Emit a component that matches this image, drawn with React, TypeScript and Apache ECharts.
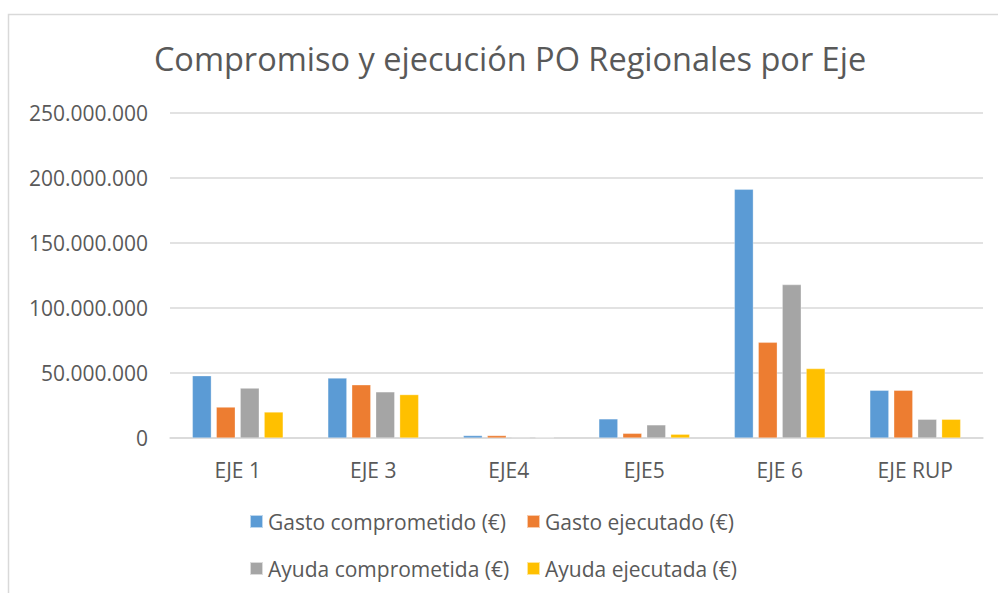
import React, { useEffect, useRef } from "react";
import * as echarts from "echarts";

const categories = ["EJE 1", "EJE 3", "EJE4", "EJE5", "EJE 6", "EJE RUP"];
const gastoComprometido = [47900000, 46100000, 1900000, 14700000, 191300000, 36700000];
const gastoEjecutado = [23800000, 40900000, 1900000, 3600000, 73600000, 36700000];
const ayudaComprometida = [38400000, 35500000, 500000, 10100000, 118000000, 14400000];
const ayudaEjecutada = [20000000, 33400000, 400000, 2900000, 53400000, 14400000];
const seriesNames = [
  "Gasto comprometido (€)",
  "Gasto ejecutado (€)",
  "Ayuda comprometida (€)",
  "Ayuda ejecutada (€)",
];
const colors = ["#5B9BD5", "#ED7D31", "#A5A5A5", "#FFC000"];

const FONT = "Open Sans";
const TEXT = "#595959";

function fmt(v: number): string {
  return String(Math.round(v)).replace(/\B(?=(\d{3})+(?!\d))/g, ".");
}

export default function App() {
  const ref = useRef<HTMLDivElement>(null);
  useEffect(() => {
    if (!ref.current) return;
    const chart = echarts.init(ref.current, null, { renderer: "svg" });
    const values = [gastoComprometido, gastoEjecutado, ayudaComprometida, ayudaEjecutada];
    const legendPos = [
      { left: 244, top: 506 },
      { left: 521, top: 506 },
      { left: 244, top: 553 },
      { left: 521, top: 553 },
    ];
    chart.setOption({
      animation: false,
      textStyle: { fontFamily: FONT },
      title: {
        text: "Compromiso y ejecución PO Regionales por Eje",
        left: 505,
        top: 37,
        textAlign: "center",
        textStyle: { fontFamily: FONT, fontSize: 32.5, fontWeight: "normal", color: TEXT },
      },
      graphic: [
        {
          type: "rect",
          shape: { x: 8.5, y: 14.5, width: 1100, height: 700 },
          style: { fill: "none", stroke: "#D9D9D9", lineWidth: 1.5 },
          silent: true,
        },
      ],
      legend: seriesNames.map((n, i) => ({
        data: [n],
        left: legendPos[i].left,
        top: legendPos[i].top,
        itemWidth: 13,
        itemHeight: 13,
        icon: "rect",
        itemGap: 0,
        textStyle: { fontFamily: FONT, fontSize: 21, color: TEXT, padding: [0, 0, 0, 0] },
      })),
      grid: { left: 170, right: 15, top: 113, bottom: 155, containLabel: false },
      xAxis: {
        type: "category",
        data: categories,
        axisLine: { lineStyle: { color: "#D9D9D9", width: 1.5 } },
        axisTick: { show: false },
        axisLabel: { color: TEXT, fontFamily: FONT, fontSize: 21, margin: 21 },
      },
      yAxis: {
        type: "value",
        min: 0,
        max: 250000000,
        interval: 50000000,
        axisLine: { show: false },
        axisTick: { show: false },
        splitLine: { lineStyle: { color: "#D9D9D9", width: 1.5 } },
        axisLabel: {
          color: TEXT,
          fontFamily: FONT,
          fontSize: 21,
          margin: 22,
          formatter: (v: number) => fmt(v),
        },
      },
      series: seriesNames.map((n, i) => ({
        name: n,
        type: "bar",
        data: values[i],
        barWidth: 19,
        barGap: "26%",
        itemStyle: { color: colors[i], borderColor: "rgba(255,255,255,0.6)", borderWidth: 0.5 },
      })),
    });
    return () => chart.dispose();
  }, []);
  return (
    <div
      ref={ref}
      style={{ position: "absolute", left: 0, top: 0, width: 998, height: 593, background: "#fff" }}
    />
  );
}
